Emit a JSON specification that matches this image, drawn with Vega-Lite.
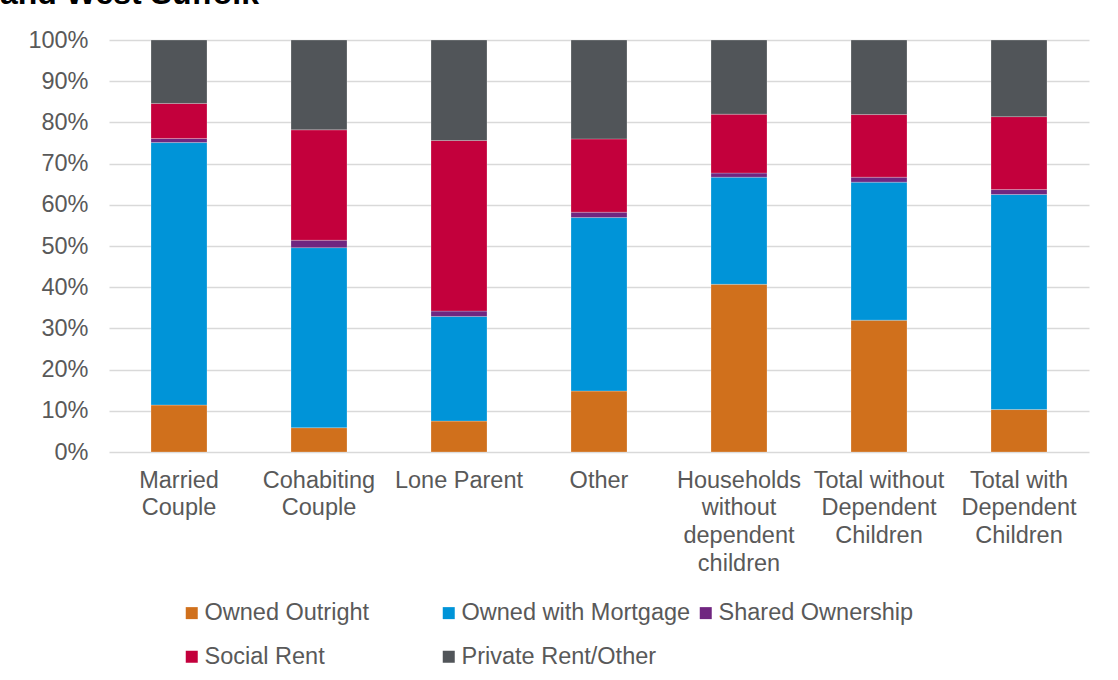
{
  "$schema": "https://vega.github.io/schema/vega-lite/v6.json",
  "width": 980,
  "height": 412,
  "autosize": {"type": "none"},
  "padding": {"left": 109, "top": 40, "right": 29, "bottom": 228},
  "background": "white",
  "title": {
    "text": "and West Suffolk",
    "anchor": "start",
    "frame": "group",
    "font": "Liberation Sans",
    "fontSize": 32,
    "fontWeight": "bold",
    "color": "#000000",
    "baseline": "alphabetic",
    "offset": 0,
    "dx": -109,
    "dy": 8
  },
  "data": {
    "values": [
      {"category": "Married Couple", "tenure": "Owned Outright", "value": 11.4},
      {"category": "Married Couple", "tenure": "Owned with Mortgage", "value": 63.7},
      {"category": "Married Couple", "tenure": "Shared Ownership", "value": 1.0},
      {"category": "Married Couple", "tenure": "Social Rent", "value": 8.5},
      {"category": "Married Couple", "tenure": "Private Rent/Other", "value": 15.4},
      {"category": "Cohabiting Couple", "tenure": "Owned Outright", "value": 5.9},
      {"category": "Cohabiting Couple", "tenure": "Owned with Mortgage", "value": 43.7},
      {"category": "Cohabiting Couple", "tenure": "Shared Ownership", "value": 1.8},
      {"category": "Cohabiting Couple", "tenure": "Social Rent", "value": 26.8},
      {"category": "Cohabiting Couple", "tenure": "Private Rent/Other", "value": 21.8},
      {"category": "Lone Parent", "tenure": "Owned Outright", "value": 7.5},
      {"category": "Lone Parent", "tenure": "Owned with Mortgage", "value": 25.4},
      {"category": "Lone Parent", "tenure": "Shared Ownership", "value": 1.3},
      {"category": "Lone Parent", "tenure": "Social Rent", "value": 41.4},
      {"category": "Lone Parent", "tenure": "Private Rent/Other", "value": 24.4},
      {"category": "Other", "tenure": "Owned Outright", "value": 14.8},
      {"category": "Other", "tenure": "Owned with Mortgage", "value": 42.1},
      {"category": "Other", "tenure": "Shared Ownership", "value": 1.3},
      {"category": "Other", "tenure": "Social Rent", "value": 17.8},
      {"category": "Other", "tenure": "Private Rent/Other", "value": 24.0},
      {"category": "Households without dependent children", "tenure": "Owned Outright", "value": 40.7},
      {"category": "Households without dependent children", "tenure": "Owned with Mortgage", "value": 26.0},
      {"category": "Households without dependent children", "tenure": "Shared Ownership", "value": 1.0},
      {"category": "Households without dependent children", "tenure": "Social Rent", "value": 14.3},
      {"category": "Households without dependent children", "tenure": "Private Rent/Other", "value": 18.0},
      {"category": "Total without Dependent Children", "tenure": "Owned Outright", "value": 32.0},
      {"category": "Total without Dependent Children", "tenure": "Owned with Mortgage", "value": 33.5},
      {"category": "Total without Dependent Children", "tenure": "Shared Ownership", "value": 1.2},
      {"category": "Total without Dependent Children", "tenure": "Social Rent", "value": 15.2},
      {"category": "Total without Dependent Children", "tenure": "Private Rent/Other", "value": 18.1},
      {"category": "Total with Dependent Children", "tenure": "Owned Outright", "value": 10.3},
      {"category": "Total with Dependent Children", "tenure": "Owned with Mortgage", "value": 52.2},
      {"category": "Total with Dependent Children", "tenure": "Shared Ownership", "value": 1.2},
      {"category": "Total with Dependent Children", "tenure": "Social Rent", "value": 17.7},
      {"category": "Total with Dependent Children", "tenure": "Private Rent/Other", "value": 18.6}
    ]
  },
  "transform": [
    {"calculate": "indexof(['Owned Outright','Owned with Mortgage','Shared Ownership','Social Rent','Private Rent/Other'], datum.tenure)", "as": "stackOrder"}
  ],
  "mark": {"type": "bar", "stroke": "#ffffff", "strokeWidth": 0.4, "strokeOpacity": 0.6},
  "encoding": {
    "x": {
      "field": "category",
      "type": "nominal",
      "sort": null,
      "scale": {"paddingInner": 0.6, "paddingOuter": 0.3},
      "axis": {
        "title": null,
        "labelAngle": 0,
        "labelFont": "Liberation Sans",
        "labelFontSize": 23.5,
        "labelColor": "#595959",
        "labelLineHeight": 27.7,
        "labelPadding": 16,
        "ticks": false,
        "tickSize": 0,
        "domain": false,
        "labelLimit": 300,
        "labelOverlap": false,
        "labelBound": false,
        "labelExpr": "datum.value == 'Married Couple' ? ['Married','Couple'] : datum.value == 'Cohabiting Couple' ? ['Cohabiting','Couple'] : datum.value == 'Households without dependent children' ? ['Households','without','dependent','children'] : datum.value == 'Total without Dependent Children' ? ['Total without','Dependent','Children'] : datum.value == 'Total with Dependent Children' ? ['Total with','Dependent','Children'] : datum.value"
      }
    },
    "y": {
      "field": "value",
      "type": "quantitative",
      "stack": "normalize",
      "scale": {"domain": [0, 1], "nice": false},
      "axis": {
        "title": null,
        "values": [0, 0.1, 0.2, 0.3, 0.4, 0.5, 0.6, 0.7, 0.8, 0.9, 1],
        "format": ".0%",
        "labelFont": "Liberation Sans",
        "labelFontSize": 23.5,
        "labelColor": "#595959",
        "labelPadding": 21,
        "ticks": false,
        "tickSize": 0,
        "domain": false,
        "grid": true,
        "gridColor": "#d9d9d9",
        "gridWidth": 1.5
      }
    },
    "order": {"field": "stackOrder", "type": "quantitative", "sort": "ascending"},
    "color": {
      "field": "tenure",
      "type": "nominal",
      "sort": ["Owned Outright", "Owned with Mortgage", "Shared Ownership", "Social Rent", "Private Rent/Other"],
      "scale": {
        "domain": ["Owned Outright", "Owned with Mortgage", "Shared Ownership", "Social Rent", "Private Rent/Other"],
        "range": ["#D0701C", "#0094D8", "#702680", "#C3003C", "#515559"]
      },
      "legend": {
        "title": null,
        "orient": "none",
        "legendX": 71,
        "legendY": 561,
        "direction": "horizontal",
        "columns": 3,
        "gridAlign": "all",
        "columnPadding": 3,
        "rowPadding": 19,
        "symbolType": "square",
        "symbolSize": 144,
        "symbolStrokeWidth": 0,
        "labelOffset": 1,
        "labelFont": "Liberation Sans",
        "labelFontSize": 23.5,
        "labelColor": "#595959",
        "labelLimit": 400
      }
    }
  },
  "config": {
    "view": {"stroke": null}
  }
}
